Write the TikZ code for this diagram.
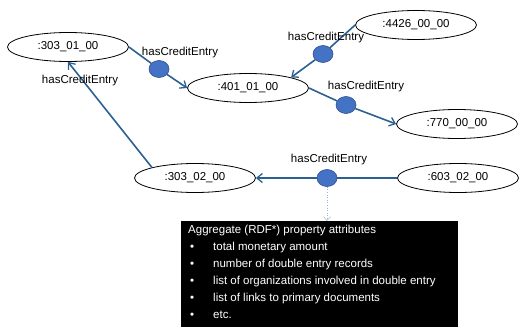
\documentclass[tikz,border=0pt]{standalone}
\usepackage{fontspec}
\setmainfont{Liberation Sans}
\usetikzlibrary{shapes.geometric,arrows.meta}

\definecolor{edgeblue}{RGB}{44,96,146}
\definecolor{dotfill}{RGB}{68,114,196}
\definecolor{dotline}{RGB}{47,82,143}
\definecolor{hintblue}{RGB}{150,180,215}

\tikzset{
  txt/.style={inner sep=0pt, font=\fontsize{11.5}{13.5}\selectfont, text height=8.2pt, text depth=2.4pt},
  entity/.style={ellipse, draw=black, line width=0.8pt, minimum width=121pt, minimum height=29pt, inner sep=0pt, txt},
  entrydot/.style={ellipse, draw=dotline, fill=dotfill, line width=0.6pt, minimum width=20pt, minimum height=17pt, inner sep=0pt},
  conn/.style={draw=edgeblue, line width=1.6pt, -{Straight Barb[length=5.5pt,width=9pt,line width=1.3pt]}},
  rel/.style={txt},
  boxtxt/.style={txt, text=white, anchor=west},
}

\begin{document}
\begin{tikzpicture}[x=1pt, y=-1pt]
\useasboundingbox (0,0) rectangle (526,326);

% accounts
\node[entity] (e30301) at (68,47)  {:303\_01\_00};
\node[entity] (e40101) at (248,88) {:401\_01\_00};
\node[entity] (e4426)  at (416,25) {:4426\_00\_00};
\node[entity] (e770)   at (457,124) {:770\_00\_00};
\node[entity] (e30302) at (195,178) {:303\_02\_00};
\node[entity] (e60302) at (458,178) {:603\_02\_00};

% credit entries
\node[entrydot] (d1) at (159,69)  {};
\node[entrydot] (d2) at (323,54)  {};
\node[entrydot] (d3) at (346,105) {};
\node[entrydot] (d4) at (327,178) {};

% connectors
\draw[conn] (e30301.east) -- (d1) -- (e40101.west);
\draw[conn] (e4426.west) -- (d2) -- (e40101.north east);
\draw[conn] (e40101.east) -- (d3) -- (e770.west);
\draw[conn] (e60302.west) -- (d4) -- (e30302.east);
\draw[conn] (e30302.north west) -- (e30301.south);

% property labels
\node[rel] (l1) at (180,53)  {hasCreditEntry};
\node[rel] (l2) at (326,38)  {hasCreditEntry};
\node[rel] (l3) at (366,87)  {hasCreditEntry};
\node[rel] (l4) at (329,160) {hasCreditEntry};
\node[rel] (l5) at (80,81)   {hasCreditEntry};

% aggregate attributes box
\node[fill=black, draw=none, minimum width=277pt, minimum height=106pt, inner sep=0pt, anchor=north west] (box) at (181,221) {};
\draw[draw=hintblue, line width=0.6pt, dotted, -{Straight Barb[length=4pt,width=7pt,line width=0.5pt]}] (d4) -- (d4 |- box.north);

\node[boxtxt] (bt0) at (188,231) {Aggregate (RDF*) property attributes};
\foreach \y/\t [count=\i] in {248/total monetary amount,
                             265/number of double entry records,
                             282/list of organizations involved in double entry,
                             299/list of links to primary documents,
                             316/etc.}{
  \node[boxtxt] (bb\i) at (190,\y) {•};
  \node[boxtxt] (bt\i) at (213,\y) {\t};
}
\end{tikzpicture}
\end{document}
